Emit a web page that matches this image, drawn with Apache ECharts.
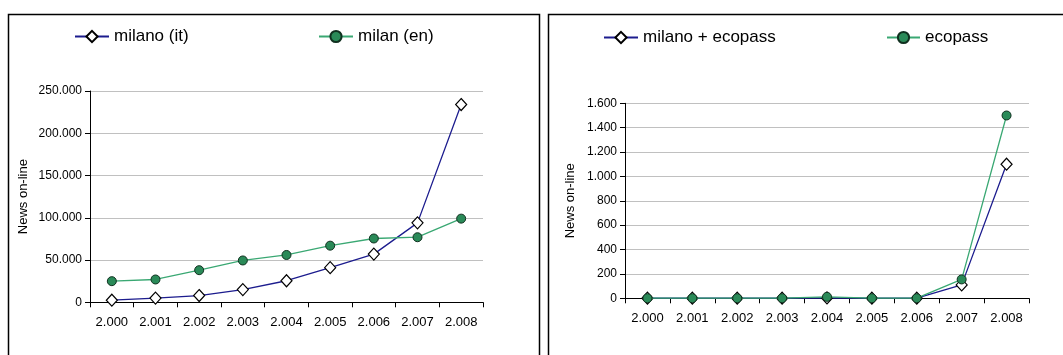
<!DOCTYPE html>
<html>
<head>
<meta charset="utf-8">
<script src="https://cdn.jsdelivr.net/npm/echarts@6/dist/echarts.min.js"></script>
<style>
html,body{margin:0;padding:0;background:#fff;}
#c{width:1063px;height:355px;}
</style>
</head>
<body>
<div id="c"></div>
<script>
const years = ['2.000','2.001','2.002','2.003','2.004','2.005','2.006','2.007','2.008'];
const milanoIt = [2500, 5000, 8000, 15000, 25500, 41000, 57000, 94000, 234000];
const milanEn = [25000, 27000, 38000, 49500, 56000, 67000, 75500, 77000, 99000];
const milanoEcopass = [1, 1, 1, 1, 3, 1, 1, 110, 1100];
const ecopass = [1, 1, 1, 1, 12, 1, 1, 155, 1500];
const leftTicks = ['0','50.000','100.000','150.000','200.000','250.000'];
const rightTicks = ['0','200','400','600','800','1.000','1.200','1.400','1.600'];

const FONT = '"Liberation Sans", Arial, sans-serif';
const NAVY = '#1c1c8e';
const GREEN_LINE = '#3aa873';
const GREEN_FILL = '#2a8a58';

function fmtThousands(v){
  return String(Math.round(v)).replace(/\B(?=(\d{3})+(?!\d))/g, '.');
}

function xAxis(gi){
  return {
    type:'category', gridIndex:gi, data:years, boundaryGap:true,
    axisLine:{lineStyle:{color:'#000',width:1}},
    axisTick:{show:true, alignWithLabel:false, length:5, lineStyle:{color:'#000'}},
    axisLabel:{color:'#000', fontFamily:FONT, fontSize:13, margin:14},
    splitLine:{show:false}
  };
}
function yAxis(gi, max, interval, nameGap){
  return {
    type:'value', gridIndex:gi, min:0, max:max, interval:interval,
    name:'News on-line', nameLocation:'middle', nameGap:nameGap, nameRotate:90,
    nameTextStyle:{color:'#000', fontFamily:FONT, fontSize:13},
    axisLine:{show:true, lineStyle:{color:'#000',width:1}},
    axisTick:{show:true, length:5, lineStyle:{color:'#000'}},
    axisLabel:{color:'#000', fontFamily:FONT, fontSize:12, margin:8, formatter:fmtThousands},
    splitLine:{show:true, lineStyle:{color:'#c0c0c0', width:1}}
  };
}
function diamondSeries(name, data, xi, yi){
  return {
    name:name, type:'line', xAxisIndex:xi, yAxisIndex:yi, data:data,
    symbol:'diamond', symbolSize:[11,12], showSymbol:true,
    lineStyle:{color:NAVY, width:1.3},
    itemStyle:{color:'#fff', borderColor:'#000', borderWidth:1.2},
    animation:false, z:3
  };
}
function circleSeries(name, data, xi, yi){
  return {
    name:name, type:'line', xAxisIndex:xi, yAxisIndex:yi, data:data,
    symbol:'circle', symbolSize:9, showSymbol:true,
    lineStyle:{color:GREEN_LINE, width:1.3},
    itemStyle:{color:GREEN_FILL, borderColor:'#10301f', borderWidth:1},
    animation:false, z:4
  };
}

const legendText = {color:'#000', fontFamily:FONT, fontSize:17};

const option = {
  backgroundColor:'#fff',
  animation:false,
  graphic:[
    {type:'rect', shape:{x:8.5, y:14.5, width:531, height:360}, style:{fill:'none', stroke:'#000', lineWidth:1.5}, z:-1},
    {type:'rect', shape:{x:548.5, y:14.5, width:530, height:360}, style:{fill:'none', stroke:'#000', lineWidth:1.5}, z:-1}
  ],
  legend:[
    {data:['milano (it)'], left:69, top:23, itemWidth:34, itemHeight:14, itemGap:5, textStyle:legendText},
    {data:['milan (en)'], left:313, top:23, itemWidth:34, itemHeight:14, itemGap:5, textStyle:legendText},
    {data:['milano + ecopass'], left:598, top:24, itemWidth:34, itemHeight:14, itemGap:5, textStyle:legendText},
    {data:['ecopass'], left:881, top:24, itemWidth:33, itemHeight:14, itemGap:5, textStyle:legendText}
  ],
  grid:[
    {left:90, top:91, width:393, height:211.3, containLabel:false},
    {left:625, top:103.3, width:404, height:195, containLabel:false}
  ],
  xAxis:[xAxis(0), xAxis(1)],
  yAxis:[yAxis(0, 250000, 50000, 60), yAxis(1, 1600, 200, 48)],
  series:[
    diamondSeries('milano (it)', milanoIt, 0, 0),
    circleSeries('milan (en)', milanEn, 0, 0),
    diamondSeries('milano + ecopass', milanoEcopass, 1, 1),
    circleSeries('ecopass', ecopass, 1, 1)
  ]
};

const chart = echarts.init(document.getElementById('c'), null, {renderer:'canvas'});
chart.setOption(option);
</script>
</body>
</html>
